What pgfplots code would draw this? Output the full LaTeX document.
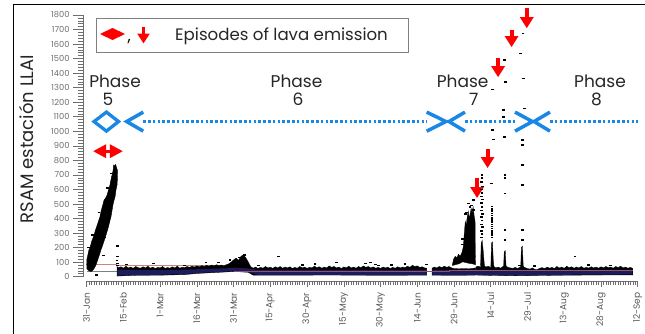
\documentclass[border=0pt]{standalone}
\usepackage{pgfplots}
\pgfplotsset{compat=1.18}
\usepackage{fontspec}
\setmainfont{Poppins}
\usetikzlibrary{arrows.meta}
\definecolor{navyb}{RGB}{28,28,92}
\definecolor{pinkl}{RGB}{205,130,130}
\definecolor{mauvel}{RGB}{150,80,110}
\definecolor{blueph}{RGB}{25,135,230}
\definecolor{tickg}{RGB}{110,110,110}
\begin{document}
\begin{tikzpicture}
\useasboundingbox (0pt,0pt) rectangle (645pt,333pt);
\draw[black, line width=1pt] (13.5pt,-5pt) rectangle (650pt,328pt);
\begin{axis}[
  at={(83pt,52pt)}, anchor=south west, scale only axis,
  width=554.7pt, height=266pt,
  xmin=-1.5, xmax=225, ymin=-30, ymax=1800,
  axis line style={draw=none},
  clip=false,
  xtick={0,15,...,225},
  xticklabels={31-Jan,15-Feb,1-Mar,16-Mar,31-Mar,15-Apr,30-Apr,15-May,30-May,14-Jun,29-Jun,14-Jul,29-Jul,13-Aug,28-Aug,12-Sep},
  minor x tick num=14,
  ytick={0,100,...,1800},
  minor y tick num=4,
  xtick pos=bottom, ytick pos=left,
  tick align=outside,
  major tick length=10pt, minor tick length=5pt,
  xtick style={/pgfplots/major tick length=6pt,/pgfplots/minor tick length=3.5pt},
  tick style={tickg, line width=0.6pt},
  /pgf/number format/assume math mode=true,
  /pgf/number format/1000 sep={},
  x tick label style={rotate=90, anchor=east, font=\fontsize{9}{9}\selectfont, text=tickg!80!black, inner sep=1.5pt},
  y tick label style={font=\fontsize{8.3}{9}\selectfont, text=tickg},
  ylabel={RSAM estación LLAI},
  ylabel style={at={(axis description cs:-0.101,0.534)}, anchor=center, font=\fontsize{18}{19}\selectfont, text=black!85},
]
% axis lines
\draw[tickg, line width=0.7pt] (axis cs:-1.5,0) -- (axis cs:-1.5,1800);
\draw[tickg, line width=0.7pt] (axis cs:0,-30) -- (axis cs:225,-30);

% thin level lines (under data)
\addplot[pinkl, line width=0.7pt] coordinates {(0,86)(12.3,86)(12.3,80)(58,80)};
\addplot[gray, line width=0.7pt] coordinates {(0,34)(12.3,34)};

% phase 5 rising cloud
\addplot[fill=black, draw=black, line width=0.4pt] coordinates {
(0,80)(0.1,120)(0.5,150)(0.9,183)(1.4,200)(2,240)(2.5,262)(3,287)(3.6,320)(4.2,350)(4.8,380)(5.4,410)(5.8,445)(6.2,470)(6.7,500)(7.1,527)(7.7,540)(8.3,560)(8.9,595)(9.5,630)(9.9,665)(10.2,690)(10.5,705)(10.8,733)(11,768)(11.4,760)(11.8,772)(12.2,750)(12.5,735)
(12.6,690)(12.4,630)(12.0,600)(11.6,550)(11.2,527)(10.8,500)(10.5,470)(10.2,440)(9.9,410)(9.4,380)(9.0,350)(8.5,320)(7.9,287)(7.4,260)(6.8,230)(6.3,205)(5.8,183)(5.3,155)(4.8,130)(4.3,105)(3.8,80)(3.0,55)(2.2,38)(1.5,36)(1,40)(0,55)
};
% low band segment A
\addplot[fill=black, draw=black, line width=0.3pt] coordinates {
(12.3,70)(13,62)(14,68)(15,58)(16,72)(17,60)(18,66)(19,57)(20,70)(21,62)(22,58)(23,68)(24,60)(25,72)(26,58)(27,66)(28,56)(29,64)(30,60)(31,70)(32,57)(33,63)(34,58)(35,68)(36,60)(37,72)(38,58)(39,65)(40,62)(41,70)(42,64)(43,72)(44,66)(45,74)(46,68)(47,76)(48,70)(49,78)(50,72)(51,80)(52,74)(53,82)(54,75)(55,80)(56,74)(57,82)(58,88)(59,100)(60,115)(61,128)(62,112)(63,140)(64,150)(65,130)(66,100)(67,68)(68,58)(69,66)(70,56)(71,64)(72,58)(73,70)(74,60)(75,65)(76,57)(77,68)(78,60)(79,70)(80,58)(81,66)(82,60)(83,68)(84,56)(85,64)(86,58)(87,70)(88,60)(89,66)(90,57)(91,65)(92,60)(93,72)(94,62)(95,68)(96,58)(97,66)(98,60)(99,74)(100,64)(101,70)(102,60)(103,66)(104,56)(105,67)(106,60)(107,72)(108,60)(109,66)(110,58)(111,70)(112,62)(113,74)(114,64)(115,70)(116,60)(117,67)(118,58)(119,64)(120,57)(121,66)(122,60)(123,65)(124,56)(125,64)(126,58)(127,68)(128,60)(129,66)(130,62)(131,72)(132,64)(133,78)(134,70)(135,74)(136,64)(137,68)(138,60)(138.8,58)
(138.8,10)(120,9)(100,11)(80,10)(68,10)(66,30)(60,35)(52,28)(45,22)(40,14)(30,10)(20,9)(12.3,4)
};
% low band segment B
\addplot[fill=black, draw=black, line width=0.3pt] coordinates {
(141,58)(142,66)(143,60)(144,70)(145,62)(146,72)(147,64)(148,70)(149,60)(150,56)(152,54)(154,56)(156,54)(158,58)(158.8,60)
(158.8,10)(150,9)(141,10)
};
% phase 7 main cluster
\addplot[fill=black, draw=black, line width=0.3pt] coordinates {
(149.3,80)(149.8,120)(150.5,140)(151.2,130)(151.8,155)(152.5,140)(153.2,165)(153.8,205)(154.2,300)(154.6,380)(155.0,355)(155.4,412)(155.8,450)(156.2,400)(156.6,435)(157.0,470)(157.4,440)(157.8,482)(158.2,420)(158.6,380)(158.7,150)(158.8,90)
(158.8,82)(157.5,88)(156,92)(154.5,98)(153.5,102)(152.5,92)(151.5,86)(150.5,82)(149.3,76)
};
% low band segment C
\addplot[fill=black, draw=black, line width=0.3pt] coordinates {
(158.8,66)(160,72)(161,64)(162,78)(163,66)(164,72)(165,62)(166,74)(167,60)(168,66)(169,58)(170,70)(171,76)(172,64)(173,60)(174,57)(175,64)(176,56)(177,66)(178,72)(179,62)(180,56)(181,52)(182,60)(183,50)(184,48)(185,58)(186,62)(187,55)(188,66)(189,58)(190,64)(191,56)(192,70)(193,60)(194,66)(195,57)(196,72)(197,62)(198,68)(199,58)(200,66)(201,60)(202,70)(203,58)(204,64)(205,59)(206,68)(207,60)(208,66)(209,58)(210,68)(211,60)(212,70)(213,62)(214,66)(215,58)(216,70)(217,62)(218,72)(219,60)(220,66)(221,58)(222,64)(223,56)
(223,12)(205,11)(190,9)(175,6)(160,10)(158.8,12)
};
% column bases
\addplot[fill=black, draw=black, line width=0.3pt] coordinates {(160.8,50)(161.1,230)(161.5,250)(161.9,180)(162.5,60)};
\addplot[fill=black, draw=black, line width=0.3pt] coordinates {(165.0,50)(165.3,230)(165.7,240)(166.0,120)(166.4,50)};
\addplot[fill=black, draw=black, line width=0.3pt] coordinates {(170.2,50)(170.5,170)(170.9,180)(171.3,60)};
\addplot[fill=black, draw=black, line width=0.3pt] coordinates {(177.2,50)(177.5,200)(177.9,210)(178.3,60)};

% navy lower part of the band
\addplot[fill=navyb, draw=none] coordinates {
(12.5,48)(20,46)(30,44)(40,48)(50,54)(58,58)(60,62)(66,56)(70,46)(90,45)(110,46)(138.6,45)(138.6,13)(110,12)(90,13)(70,12)(66,32)(60,38)(52,30)(45,25)(40,17)(30,13)(20,12)(12.5,7)};
\addplot[fill=navyb, draw=none] coordinates {
(141.2,46)(150,45)(158.8,46)(170,45)(185,40)(200,46)(222.8,44)(222.8,15)(205,14)(190,12)(175,9)(160,13)(141.2,13)};
\addplot[mauvel, line width=0.7pt] coordinates {(60,36)(148,36)(148,40)(223,40)};

% scattered samples
\addplot[only marks, mark=-, mark size=1.4pt, mark options={line width=1.5pt, black}] coordinates {
(4.1,11)(6.8,144)(12.5,211)(12.5,140)(12.4,110)(12.6,92)(12.5,75)(0.6,200)(2.4,285)(5.0,440)(8.6,610)(10.0,710)(7.2,270)(9.0,380)
(16.3,85)(27.2,91)(48.7,98)(53.7,98)(58.5,114)(62.3,130)(64.5,150)(78.2,137)(93.2,88)(102,96)(114,90)(116,96)(118,84)(119,78)(124.4,80)(138.6,82)(199.4,137)(176.6,78)(183,72)(40,78)(70,76)(88,80)(130,86)(150,100)(205,80)(214,78)
(155.8,504)(157.8,527)(157.0,490)(158.1,460)(154.8,430)(156.5,480)(153.6,260)(153.3,220)(155.2,440)
(161.4,699)(161.4,680)(161.2,650)(161.5,620)(161.3,600)(161.4,575)(161.2,550)(161.5,530)(161.3,505)(161.4,480)(161.2,455)(161.5,430)(161.3,410)(161.4,385)(161.2,360)(161.5,340)(161.3,315)(161.4,295)(161.2,270)
(165.7,1288)(165.7,1008)(166.0,944)(165.4,642)(165.5,481)(165.5,465)(165.5,450)(165.5,435)(165.5,420)(165.5,405)(165.5,390)(165.5,375)(165.5,360)(165.5,345)(165.5,330)(165.5,315)(165.5,300)(165.5,285)(165.5,270)
(170.6,1489)(170.9,1340)(170.2,1146)(170.2,1100)(170.6,962)(170.8,699)(170.8,678)(170.8,573)(170.8,321)(170.8,252)
(178.2,1673)(177.2,1535)(178.3,1363)(178.9,1157)(178.0,940)(178.0,905)(178.0,768)(177.8,630)(177.8,321)(177.8,252)
};

% episode arrows
\draw[red, line width=4pt, -{Triangle[length=11pt,width=13pt]}] (axis cs:159.4,680) -- (axis cs:159.4,541);
\draw[red, line width=4pt, -{Triangle[length=11pt,width=13pt]}] (axis cs:163.7,875) -- (axis cs:163.7,747);
\draw[red, line width=4pt, -{Triangle[length=11pt,width=13pt]}] (axis cs:168.0,1505) -- (axis cs:168.0,1372);
\draw[red, line width=4pt, -{Triangle[length=11pt,width=13pt]}] (axis cs:173.5,1700) -- (axis cs:173.5,1579);
\draw[red, line width=4pt, -{Triangle[length=11pt,width=13pt]}] (axis cs:179.7,1845) -- (axis cs:179.7,1709);
\draw[red, line width=3pt, {Triangle[length=13pt,width=13pt]}-{Triangle[length=13pt,width=13pt]}] (axis cs:2.6,863) -- (axis cs:14.8,863);

% phase markers
\draw[blueph, line width=2.4pt, dash pattern=on 2.6pt off 2.2pt] (axis cs:23.11,1067) -- (axis cs:138.83,1067);
\draw[blueph, line width=2.4pt, dash pattern=on 2.6pt off 2.2pt] (axis cs:154.47,1067) -- (axis cs:174.9,1067);
\draw[blueph, line width=2.4pt, dash pattern=on 2.6pt off 2.2pt] (axis cs:189.18,1067) -- (axis cs:225,1067);
\draw[blueph, line width=3.3pt, line join=miter] (axis cs:3.0,1067) -- (axis cs:8.08,1132) -- (axis cs:13.0,1067) -- (axis cs:8.08,1001) -- cycle;
\draw[blueph, line width=3.5pt] (axis cs:23.11,1132) -- (axis cs:16.33,1067) -- (axis cs:23.11,1001);
\draw[blueph, line width=3.5pt] (axis cs:138.83,1132) -- (axis cs:146.7,1067) -- (axis cs:138.83,1001);
\draw[blueph, line width=3.5pt] (axis cs:154.47,1132) -- (axis cs:147.95,1067) -- (axis cs:154.47,1001);
\draw[blueph, line width=3.5pt] (axis cs:174.9,1132) -- (axis cs:182.0,1067) -- (axis cs:174.9,1001);
\draw[blueph, line width=3.5pt] (axis cs:189.18,1132) -- (axis cs:182.7,1067) -- (axis cs:189.18,1001);

% phase labels
\node[anchor=base, font=\fontsize{17}{18}\selectfont, text=black!85, inner sep=0pt] at (axis cs:11.6,1300) {Phase};
\node[anchor=base, font=\fontsize{17}{18}\selectfont, text=black!85, inner sep=0pt] at (axis cs:8.7,1178) {5};
\node[anchor=base, font=\fontsize{17}{18}\selectfont, text=black!85, inner sep=0pt] at (axis cs:85.7,1300) {Phase};
\node[anchor=base, font=\fontsize{17}{18}\selectfont, text=black!85, inner sep=0pt] at (axis cs:86.3,1178) {6};
\node[anchor=base, font=\fontsize{17}{18}\selectfont, text=black!85, inner sep=0pt] at (axis cs:153.5,1300) {Phase};
\node[anchor=base, font=\fontsize{17}{18}\selectfont, text=black!85, inner sep=0pt] at (axis cs:158.1,1178) {7};
\node[anchor=base, font=\fontsize{17}{18}\selectfont, text=black!85, inner sep=0pt] at (axis cs:209.6,1300) {Phase};
\node[anchor=base, font=\fontsize{17}{18}\selectfont, text=black!85, inner sep=0pt] at (axis cs:208.2,1178) {8};
\end{axis}
% legend box
\draw[gray, line width=0.8pt, fill=white] (96pt,281pt) rectangle (408pt,315pt);
\fill[red] (100pt,299pt) -- (112.5pt,305pt) -- (125pt,299pt) -- (112.5pt,293pt) -- cycle;
\node[anchor=base west, font=\fontsize{16}{17}\selectfont, inner sep=0pt] at (127.5pt,291pt) {,};
\draw[red, line width=3.5pt, -{Triangle[length=10pt,width=12pt]}] (143.5pt,306pt) -- (143.5pt,289.5pt);
\node[anchor=base west, font=\fontsize{16.6}{17}\selectfont, inner sep=0pt, text=black!85] at (175pt,293pt) {Episodes of lava emission};
\end{tikzpicture}
\end{document}
